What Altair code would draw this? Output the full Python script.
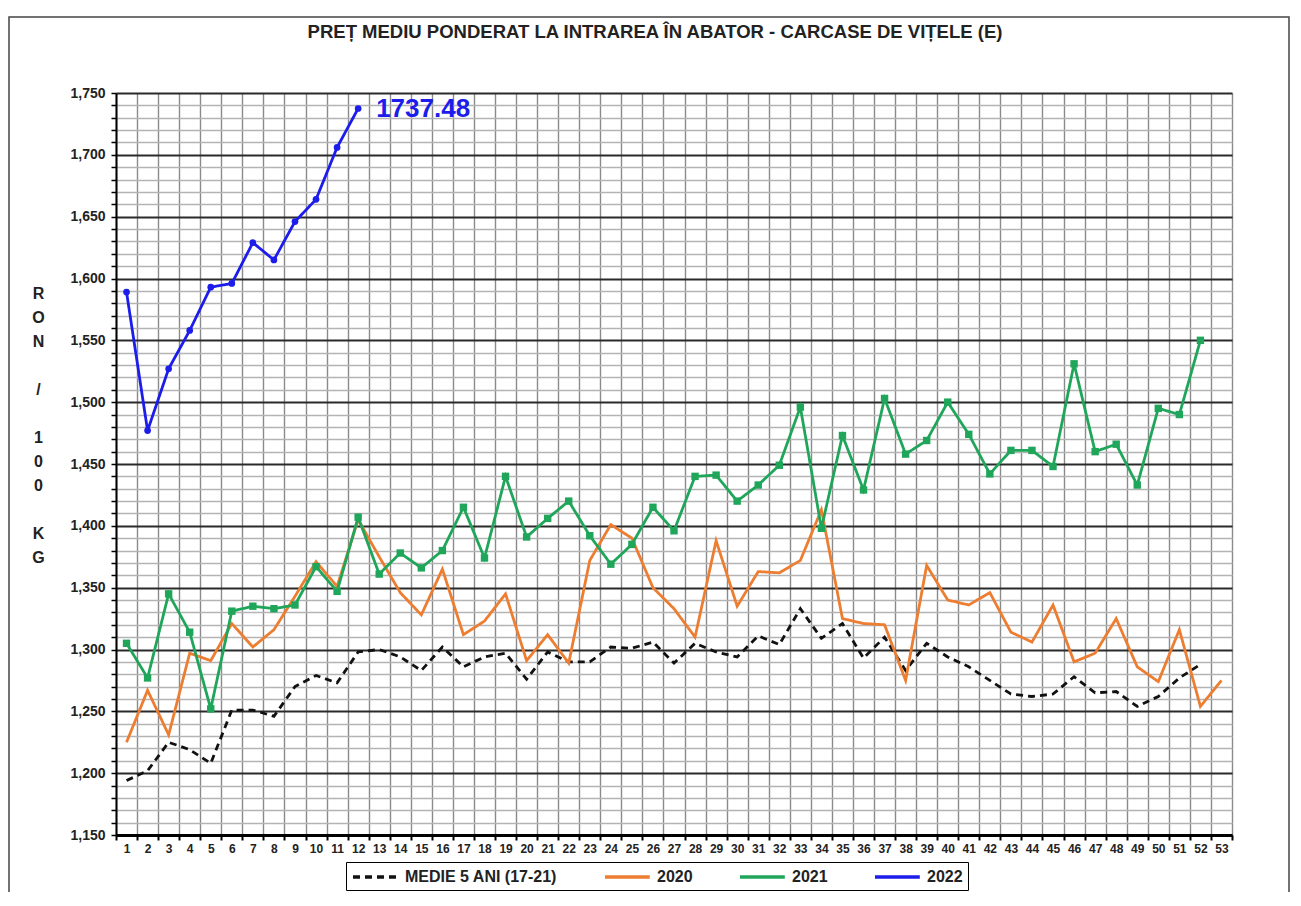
import altair as alt
import pandas as pd

weeks = list(range(1, 54))
series_names = ["MEDIE 5 ANI (17-21)", "2020", "2021", "2022"]
series_colors = ["#111111", "#ED7D31", "#1FA65A", "#1C1CEB"]

medie_5_ani = [1194, 1202, 1225, 1219, 1208, 1251, 1251, 1246, 1270, 1279,
               1273, 1298, 1300, 1294, 1283, 1302, 1286, 1294, 1297, 1276,
               1298, 1290, 1290, 1302, 1301, 1306, 1289, 1305, 1298, 1294,
               1311, 1304, 1333, 1309, 1321, 1293, 1310, 1283, 1305, 1294,
               1286, 1275, 1264, 1262, 1264, 1278, 1265, 1266, 1254, 1262,
               1277, 1288]
y2020 = [1225, 1267, 1231, 1297, 1291, 1321, 1302, 1316, 1343, 1371,
         1351, 1405, 1375, 1346, 1328, 1365, 1312, 1323, 1345, 1291,
         1312, 1289, 1372, 1401, 1390, 1350, 1333, 1310, 1388, 1335,
         1363, 1362, 1372, 1413, 1325, 1321, 1320, 1275, 1368, 1340,
         1336, 1346, 1314, 1306, 1336, 1290, 1297, 1325, 1286, 1274,
         1316, 1254, 1275]
y2021 = [1305, 1277, 1345, 1314, 1252, 1331, 1335, 1333, 1336, 1367,
         1347, 1407, 1361, 1378, 1366, 1380, 1415, 1374, 1440, 1391,
         1406, 1420, 1392, 1369, 1385, 1415, 1396, 1440, 1441, 1420,
         1433, 1449, 1496, 1398, 1473, 1429, 1503, 1458, 1469, 1500,
         1474, 1442, 1461, 1461, 1448, 1531, 1460, 1466, 1433, 1495,
         1490, 1550]
y2022 = [1589, 1477, 1527, 1558, 1593, 1596, 1629, 1615, 1646, 1664,
         1706, 1737.48]
last_label = "1737.48"

y_ticks = list(range(1150, 1751, 10))
x_bounds = [w - 0.5 for w in weeks] + [53.5]
BLANK = "\u2800"
y_title = ["R", "O", "N", BLANK, "/", BLANK, "1", "0", "0", BLANK, "K", "G"]
title_text = "PREȚ MEDIU PONDERAT LA INTRAREA ÎN ABATOR - CARCASE DE VIȚELE (E)"

rows = []
for name, vals in zip(series_names, [medie_5_ani, y2020, y2021, y2022]):
    for w, v in zip(weeks, vals):
        rows.append({"week": w, "value": v, "series": name})
df = pd.DataFrame(rows)

FONT = "Liberation Sans"

x_enc = alt.X(
    "week:Q",
    scale=alt.Scale(domain=[0.5, 53.5], nice=False, zero=False),
    axis=alt.Axis(
        values=x_bounds,
        tickCount=500,
        labelExpr="datum.value < 53 ? format(datum.value + 0.5, 'd') : ''",
        labelOffset=10.53,
        labelOverlap=False,
        labelFlush=False,
        labelBound=False,
        labelFont=FONT,
        labelFontSize=12,
        labelFontWeight="bold",
        labelColor="#222",
        labelPadding=3,
        tickSize=5,
        tickWidth=2,
        tickColor="black",
        domainColor="black",
        domainWidth=3,
        grid=True,
        gridColor="#8a8a8a",
        gridWidth=1.4,
        title=None,
    ),
)
y_enc = alt.Y(
    "value:Q",
    scale=alt.Scale(domain=[1150, 1750], nice=False, zero=False),
    axis=alt.Axis(
        values=y_ticks,
        tickCount=500,
        labelOverlap=False,
        labelExpr="datum.value % 50 === 0 ? format(datum.value, ',') : ''",
        labelFont=FONT,
        labelFontSize=14,
        labelFontWeight="bold",
        labelColor="#222",
        labelPadding=6,
        tickSize=5,
        tickColor="black",
        tickWidth=1.5,
        domainColor="black",
        domainWidth=2,
        grid=True,
        gridColor={"condition": {"test": "datum.value % 50 === 0", "value": "#2a2a2a"}, "value": "#b4b4b4"},
        gridWidth={"condition": {"test": "datum.value % 50 === 0", "value": 2.2}, "value": 1.3},
        title=y_title,
        titleAngle=0,
        titleFont=FONT,
        titleFontSize=16,
        titleFontWeight="bold",
        titleColor="#222",
        titleLineHeight=24,
        titleAlign="center",
        titleBaseline="top",
        titleX=-78,
        titleY=192,
    ),
)

legend = alt.Legend(
    title=None,
    orient="none",
    legendX=230,
    legendY=769,
    direction="horizontal",
    symbolType="M-1,0H4.6",
    symbolSize=256,
    symbolStrokeWidth=3.5,
    labelFont=FONT,
    labelFontSize=16,
    labelFontWeight="bold",
    labelColor="#222",
    labelOffset=34,
    columnPadding=40,
    padding=5,
    strokeColor="black",
    fillColor="white",
)

lines = alt.Chart(df).mark_line(strokeWidth=2.8).encode(
    x=x_enc,
    y=y_enc,
    color=alt.Color("series:N", scale=alt.Scale(domain=series_names, range=series_colors), legend=legend, sort=series_names),
    strokeDash=alt.StrokeDash("series:N", scale=alt.Scale(domain=series_names, range=[[7, 5], [1, 0], [1, 0], [1, 0]]), legend=legend, sort=series_names),
    order=alt.Order("week:Q"),
)

pts2021 = alt.Chart(df).transform_filter(alt.datum.series == "2021").mark_point(
    shape="square", filled=True, size=55, color=series_colors[2], opacity=1
).encode(x="week:Q", y="value:Q")

pts2022 = alt.Chart(df).transform_filter(alt.datum.series == "2022").mark_point(
    shape="circle", filled=True, size=45, color=series_colors[3], opacity=1
).encode(x="week:Q", y="value:Q")

label = alt.Chart(df).transform_filter(
    (alt.datum.series == "2022") & (alt.datum.week == 12)
).mark_text(
    align="left", baseline="middle", dx=18, dy=1, font=FONT, fontSize=26,
    fontWeight="bold", color=series_colors[3]
).encode(x="week:Q", y="value:Q", text=alt.value(last_label))

frame = alt.Chart(alt.Data(values=[{}])).mark_rect(
    fillOpacity=0, stroke="#444", strokeWidth=1.5
).encode(x=alt.value(-107), x2=alt.value(1173), y=alt.value(-76), y2=alt.value(830))

chart = alt.layer(frame, lines, pts2021, pts2022, label).properties(
    width=1116,
    height=742,
    padding={"left": 108, "top": 85, "right": 59, "bottom": 57},
    autosize=alt.AutoSizeParams(type="none"),
    title=alt.Title(
        title_text, font=FONT, fontSize=18.5, fontWeight="bold", color="#222",
        anchor="middle", frame="group", dx=-19, offset=-44, baseline="bottom",
    ),
).configure_view(stroke="black", strokeWidth=2.5).configure(background="white")

chart.save("out.html", embed_options={"renderer": "svg", "actions": False})
